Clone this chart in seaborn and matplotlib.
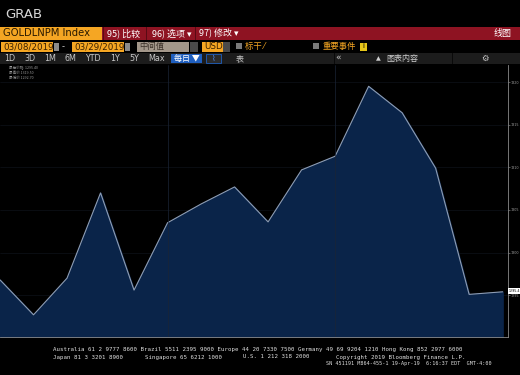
import matplotlib
matplotlib.use("Agg")
import matplotlib.pyplot as plt
from matplotlib.patches import Rectangle
import seaborn as sns
import pandas as pd

# ---- data ----
dates = ["03/08", "03/11", "03/12", "03/13", "03/14", "03/15", "03/18", "03/19",
         "03/20", "03/21", "03/22", "03/25", "03/26", "03/27", "03/28", "03/29"]
prices = [1296.8, 1292.7, 1297.0, 1307.0, 1295.6, 1303.5, 1305.7, 1307.7,
          1303.6, 1309.7, 1311.3, 1319.5, 1316.4, 1309.9, 1295.1, 1295.4]
ytick_vals = [1295, 1300, 1305, 1310, 1315, 1320]
ytick_labels = ["1295", "1300", "1305", "1310", "1315", "1320"]
last_label = "1295.4"

df = pd.DataFrame({"idx": range(len(dates)), "date": dates, "price": prices})

sns.set_theme(style="dark")
plt.rcParams["font.family"] = ["DejaVu Sans", "Noto Sans CJK SC"]

W, H = 520, 375
fig = plt.figure(figsize=(W / 100, H / 100), dpi=100, facecolor="black")


def box(x, y, w, h, color, **kw):
    fig.patches.append(Rectangle((x / W, 1 - (y + h) / H), w / W, h / H,
                                 transform=fig.transFigure, facecolor=color,
                                 edgecolor=kw.pop("ec", "none"), lw=kw.pop("lw", 0), **kw))


def txt(x, y, s, size=6, color="white", ha="left", family=None, **kw):
    if family is None:
        family = ["DejaVu Sans", "Noto Sans CJK SC"]
    fig.text(x / W, 1 - y / H, s, fontsize=size, color=color, ha=ha, va="center",
             family=family, **kw)


CJK = ["Noto Sans CJK SC", "DejaVu Sans"]

# ---- header ----
txt(5, 14, "GRAB", size=9.5, color="#d8d8d8")

box(0, 27, W, 13, "#8e1322")
box(0, 27, 102, 13, "#f5a623")
txt(3, 33.5, "GOLDLNPM Index", size=7.2, color="#2a1a00")
for xs in (103, 146, 195):
    box(xs, 27, 1.2, 13, "#5a0a14")
txt(107, 33.5, "95) 比较", size=6.5, family=CJK)
txt(152, 33.5, "96) 选项 ▾", size=6.5, family=CJK)
txt(199, 33.5, "97) 修改 ▾", size=6.5, family=CJK)
txt(512, 33.5, "线图", size=6.5, ha="right", family=CJK)

# row 2
box(1, 41.5, 52, 10, "#f5a623")
txt(3, 46.5, "03/08/2019", size=6.3, color="#3a2000")
box(54, 42.5, 5, 8, "#8a8a8a")
txt(63, 46.5, "-", size=6, color="#d0d0d0", ha="center")
box(72, 41.5, 52, 10, "#f5a623")
txt(74, 46.5, "03/29/2019", size=6.3, color="#3a2000")
box(125, 42.5, 5, 8, "#8a8a8a")
box(137, 41.5, 52, 10, "#a3978a")
txt(139, 46.5, "中间值", size=6, color="#3a3028", family=CJK)
box(190, 41.5, 8, 10, "#4a4a4a")
box(202, 41.5, 21, 10, "#f5a623")
txt(204, 46.5, "USD", size=6.3, color="#3a2000")
box(223, 41.5, 7, 10, "#4a4a4a")
box(236, 43.5, 5.5, 5.5, "#7a7a7a")
txt(245, 46.5, "标干 ⁄", size=6, color="#f5a623", family=CJK)
box(313, 43.5, 5.5, 5.5, "#7a7a7a")
txt(323, 46.5, "重要事件", size=6, color="#f5a623", family=CJK)
box(360, 42.5, 7, 8, "#e6c619")
txt(363.5, 46.5, "i", size=5, color="black", ha="center")

# row 3
box(0, 53, W, 10.5, "#1c1c1c")
for lab, xc in zip(["1D", "3D", "1M", "6M", "YTD", "1Y", "5Y", "Max"],
                   [10, 30, 50, 70, 93, 115, 134, 157]):
    txt(xc, 58.3, lab, size=5.8, color="#c8c8c8", ha="center")
box(171, 53.5, 31, 9.5, "#1f5fbf")
txt(186.5, 58.3, "每日 ▼", size=5.8, color="white", ha="center", family=CJK)
box(206, 53.5, 15, 9.5, "#2a2a2a", ec="#1f5fbf", lw=0.6)
txt(213.5, 58.3, "⌇", size=5.5, color="#4a8fff", ha="center")
txt(240, 58.3, "表", size=5.8, color="#c8c8c8", ha="center", family=CJK)
box(334, 53, 1, 10.5, "#0a0a0a")
txt(338, 58.3, "«", size=6.5, color="#c8c8c8", ha="center")
txt(376, 58.3, "▲", size=4.5, color="#d0d0d0")
txt(386, 58.3, "图表内容", size=5.8, color="#d0d0d0", family=CJK)
box(452, 53, 1, 10.5, "#0a0a0a")
txt(485, 58.3, "⚙", size=6, color="#c8c8c8", ha="center")

# tiny legend
for i, s in enumerate(["最后价格  1295.40", "最高价 1319.50", "最低价 1292.70"]):
    txt(9, 68 + i * 5, s, size=2.6, color="#9a9a9a", family=CJK)

# ---- chart ----
ax = fig.add_axes([0, 1 - 337 / H, 508 / W, (337 - 65) / H])
ax.set_facecolor("black")
ymin, ymax = 1290.1, 1322.0
sns.lineplot(data=df, x="idx", y="price", ax=ax, color="#8e9db4", linewidth=0.8)
ax.fill_between(df["idx"], df["price"], ymin, color="#0a2449", zorder=1)
ax.set_xlim(0, 15.16)
ax.set_ylim(ymin, ymax)

for v in ytick_vals:
    ax.axhline(v, color="#111620", lw=0.4, zorder=0.5)
for xi in (5, 10):
    ax.axvline(xi, color="#1a2436", lw=0.5, zorder=2)

ax.yaxis.tick_right()
ax.set_yticks(ytick_vals)
ax.set_yticklabels(ytick_labels)
ax.tick_params(axis="y", colors="#9a9a9a", labelsize=2.4, length=1.5, width=0.4, pad=0.6)
ax.set_xticks(df["idx"])
ax.set_xticklabels([])
ax.tick_params(axis="x", colors="#9a9a9a", length=2, width=0.4)
ax.set_xlabel("")
ax.set_ylabel("")
ax.grid(False)
for side in ("top", "left"):
    ax.spines[side].set_visible(False)
for side in ("right", "bottom"):
    ax.spines[side].set_color("#8a8a8a")
    ax.spines[side].set_linewidth(0.6)

ax.annotate(last_label, xy=(1.0, prices[-1]), xycoords=("axes fraction", "data"),
            xytext=(0.8, 0.6), textcoords="offset points", fontsize=2.3, color="black",
            va="center", ha="left",
            bbox=dict(boxstyle="square,pad=0.2", fc="white", ec="none"),
            annotation_clip=False)

# ---- footer ----
mono = ["DejaVu Sans Mono"]
txt(53, 349, "Australia 61 2 9777 8600 Brazil 5511 2395 9000 Europe 44 20 7330 7500 "
    "Germany 49 69 9204 1210 Hong Kong 852 2977 6000", size=4.15, color="#e0e0e0", family=mono)
txt(53, 357, "Japan 81 3 3201 8900", size=4.15, color="#e0e0e0", family=mono)
txt(145, 357, "Singapore 65 6212 1000", size=4.15, color="#e0e0e0", family=mono)
txt(243, 357, "U.S. 1 212 318 2000", size=4.15, color="#e0e0e0", family=mono)
txt(336, 357, "Copyright 2019 Bloomberg Finance L.P.", size=4.15, color="#e0e0e0", family=mono)
txt(326, 364, "SN 451191 M864-455-1 19-Apr-19  6:16:37 EDT  GMT-4:00",
    size=3.7, color="#e0e0e0", family=mono)

fig.savefig("out.png", dpi=100, facecolor="black")
